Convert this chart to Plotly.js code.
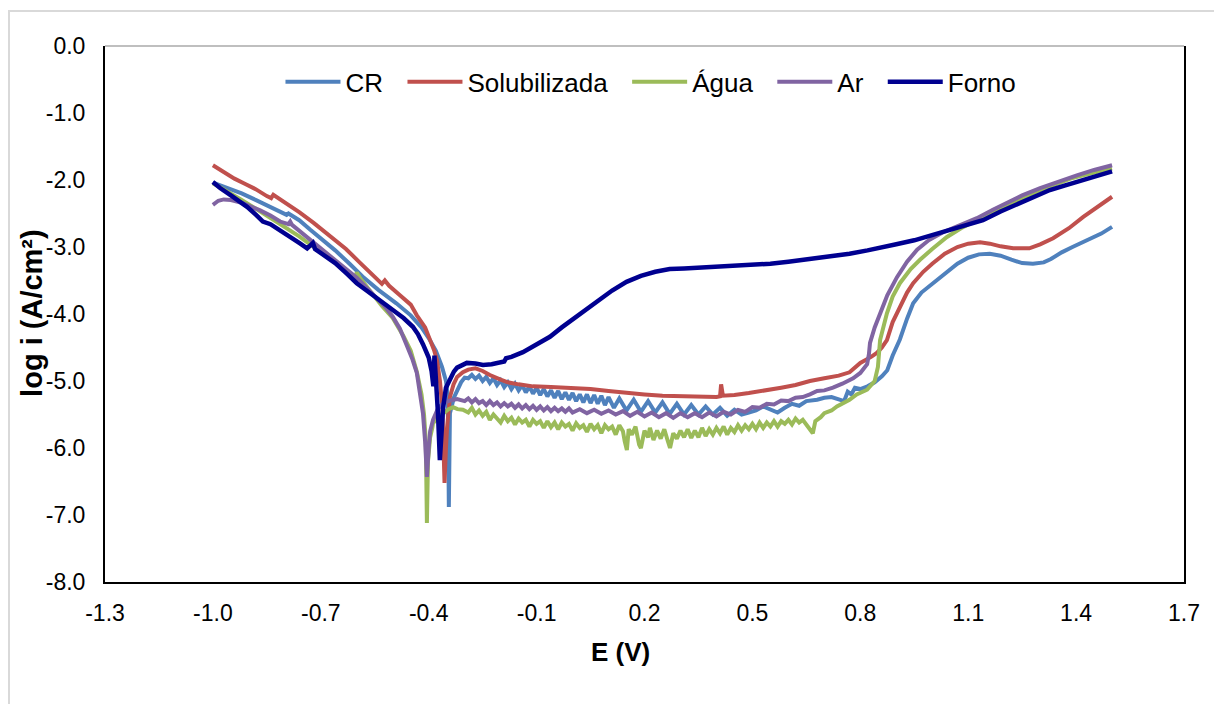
<!DOCTYPE html>
<html>
<head>
<meta charset="utf-8">
<script src="https://cdn.plot.ly/plotly-3.0.1.min.js"></script>
<style>
  html, body { margin:0; padding:0; background:#fff; }
  #wrap { position:relative; width:1214px; height:704px; overflow:hidden; }
  #chart { position:absolute; left:0; top:0; width:1214px; height:704px; }
  #frame { position:absolute; left:8px; top:10px; width:1300px; height:800px;
           border-left:2px solid #d9d9d9; border-top:2px solid #d9d9d9; pointer-events:none; }
</style>
</head>
<body>
<div id="wrap"><div id="chart"></div><div id="frame"></div></div>
<script>
// ---- Data (E in V, log i in log(A/cm²)) ----
const seriesNames = ["CR", "Solubilizada", "Água", "Ar", "Forno"];

const crPts = [[-1.00,-2.04],[-0.96,-2.12],[-0.92,-2.2],[-0.88,-2.3],[-0.84,-2.4],[-0.81,-2.48],[-0.795,-2.52],[-0.79,-2.5],[-0.76,-2.6],[-0.73,-2.74],[-0.70,-2.87],[-0.66,-3.05],[-0.62,-3.25],[-0.58,-3.46],[-0.54,-3.64],[-0.49,-3.84],[-0.45,-4.02],[-0.42,-4.2],[-0.40,-4.36],[-0.38,-4.55],[-0.363,-4.79],[-0.352,-5.0],[-0.349,-5.13],[-0.346,-5.6],[-0.344,-6.88],[-0.342,-6.0],[-0.341,-5.48],[-0.33,-5.25],[-0.321,-5.13],[-0.31,-5.02],[-0.3,-4.95],
[-0.29,-4.96],[-0.28,-4.91],[-0.27,-4.97],[-0.26,-4.92],[-0.25,-5.0],[-0.24,-4.94],[-0.23,-5.03],[-0.22,-4.96],[-0.21,-5.06],[-0.2,-4.99],[-0.19,-5.09],[-0.18,-5.02],[-0.17,-5.12],[-0.16,-5.04],[-0.15,-5.14],[-0.14,-5.06],[-0.13,-5.17],[-0.12,-5.08],[-0.11,-5.19],[-0.1,-5.1],[-0.09,-5.21],[-0.08,-5.12],[-0.07,-5.23],[-0.06,-5.14],[-0.05,-5.25],[-0.04,-5.15],[-0.03,-5.27],[-0.02,-5.17],[-0.01,-5.28],[0.0,-5.18],[0.01,-5.3],[0.02,-5.2],[0.03,-5.32],[0.04,-5.2],[0.05,-5.33],[0.06,-5.21],[0.07,-5.34],[0.08,-5.22],[0.09,-5.36],[0.1,-5.24],[0.115,-5.4],[0.13,-5.26],[0.15,-5.44],[0.17,-5.28],[0.19,-5.46],[0.21,-5.3],[0.23,-5.47],[0.25,-5.32],[0.27,-5.49],[0.29,-5.34],[0.31,-5.5],[0.33,-5.36],[0.35,-5.5],[0.37,-5.38],[0.39,-5.5],[0.41,-5.4],[0.43,-5.52],[0.45,-5.43],[0.47,-5.5],[0.49,-5.47],[0.51,-5.44],[0.53,-5.38],[0.55,-5.42],[0.57,-5.47],[0.59,-5.4],[0.61,-5.34],[0.63,-5.37],[0.65,-5.3],[0.68,-5.28],[0.7,-5.25],[0.72,-5.24],[0.74,-5.27],[0.755,-5.3],[0.765,-5.16],[0.775,-5.2],[0.785,-5.1],[0.8,-5.12],[0.82,-5.08],[0.84,-5.02],[0.86,-4.93],[0.875,-4.84],[0.89,-4.62],[0.91,-4.38],[0.93,-4.07],[0.947,-3.84],[0.97,-3.68],[1.0,-3.55],[1.03,-3.42],[1.07,-3.25],[1.1,-3.16],[1.13,-3.11],[1.16,-3.1],[1.19,-3.13],[1.22,-3.19],[1.25,-3.24],[1.28,-3.25],[1.31,-3.23],[1.33,-3.18],[1.36,-3.08],[1.39,-3.0],[1.43,-2.9],[1.47,-2.8],[1.5,-2.7]];

const solPts = [[-1.0,-1.78],[-0.97,-1.88],[-0.94,-1.98],[-0.91,-2.06],[-0.88,-2.14],[-0.85,-2.24],[-0.838,-2.27],[-0.832,-2.22],[-0.8,-2.33],[-0.76,-2.48],[-0.72,-2.64],[-0.67,-2.85],[-0.63,-3.03],[-0.59,-3.24],[-0.55,-3.45],[-0.53,-3.55],[-0.522,-3.5],[-0.51,-3.58],[-0.48,-3.72],[-0.45,-3.86],[-0.433,-4.02],[-0.41,-4.2],[-0.396,-4.39],[-0.385,-4.54],[-0.377,-4.69],[-0.369,-4.99],[-0.362,-5.4],[-0.356,-6.52],[-0.352,-6.0],[-0.349,-5.7],[-0.341,-5.24],[-0.331,-5.05],[-0.321,-4.94],[-0.305,-4.87],[-0.29,-4.83],[-0.27,-4.81],[-0.25,-4.85],[-0.23,-4.91],[-0.2,-4.98],[-0.18,-5.02],[-0.15,-5.05],[-0.11,-5.08],[-0.06,-5.09],[0.0,-5.1],[0.05,-5.12],[0.1,-5.15],[0.15,-5.18],[0.2,-5.2],[0.25,-5.22],[0.3,-5.23],[0.35,-5.24],[0.4,-5.24],[0.41,-5.23],[0.413,-5.05],[0.418,-5.22],[0.45,-5.21],[0.49,-5.18],[0.53,-5.15],[0.58,-5.1],[0.62,-5.06],[0.66,-5.0],[0.7,-4.96],[0.74,-4.92],[0.77,-4.87],[0.79,-4.78],[0.8,-4.73],[0.83,-4.64],[0.846,-4.58],[0.86,-4.5],[0.874,-4.39],[0.89,-4.12],[0.91,-3.89],[0.93,-3.68],[0.947,-3.54],[0.975,-3.37],[1.0,-3.25],[1.035,-3.1],[1.07,-3.0],[1.1,-2.95],[1.133,-2.93],[1.16,-2.95],[1.19,-2.99],[1.225,-3.02],[1.27,-3.02],[1.3,-2.96],[1.336,-2.87],[1.38,-2.72],[1.42,-2.55],[1.46,-2.4],[1.5,-2.25]];

const aguaPts = [[-1.0,-2.05],[-0.96,-2.17],[-0.92,-2.3],[-0.88,-2.43],[-0.84,-2.57],[-0.8,-2.7],[-0.76,-2.84],[-0.72,-3.0],[-0.68,-3.15],[-0.64,-3.3],[-0.62,-3.38],[-0.605,-3.46],[-0.6,-3.38],[-0.59,-3.47],[-0.56,-3.68],[-0.53,-3.88],[-0.5,-4.06],[-0.47,-4.33],[-0.45,-4.55],[-0.433,-4.86],[-0.42,-5.2],[-0.413,-5.5],[-0.408,-5.9],[-0.405,-7.12],[-0.402,-6.2],[-0.396,-5.84],[-0.39,-5.7],[-0.388,-5.63],[-0.375,-5.55],[-0.36,-5.48],[-0.345,-5.42],[-0.332,-5.39],[-0.32,-5.42],[-0.305,-5.43],
[-0.29,-5.47],[-0.28,-5.4],[-0.27,-5.5],[-0.26,-5.44],[-0.25,-5.52],[-0.24,-5.46],[-0.23,-5.58],[-0.22,-5.5],[-0.21,-5.56],[-0.2,-5.62],[-0.19,-5.52],[-0.18,-5.6],[-0.17,-5.55],[-0.16,-5.65],[-0.15,-5.56],[-0.14,-5.62],[-0.13,-5.58],[-0.12,-5.68],[-0.11,-5.58],[-0.1,-5.64],[-0.09,-5.6],[-0.08,-5.7],[-0.07,-5.6],[-0.06,-5.69],[-0.05,-5.62],[-0.04,-5.72],[-0.03,-5.62],[-0.02,-5.68],[-0.01,-5.64],[0.0,-5.74],[0.01,-5.63],[0.02,-5.7],[0.03,-5.66],[0.04,-5.76],[0.05,-5.64],[0.06,-5.72],[0.07,-5.66],[0.08,-5.78],[0.09,-5.66],[0.1,-5.72],[0.11,-5.68],[0.12,-5.8],[0.13,-5.66],[0.14,-5.75],[0.145,-5.9],[0.151,-6.03],[0.156,-5.72],[0.165,-5.8],[0.175,-5.68],[0.185,-5.95],[0.19,-6.0],[0.2,-5.74],[0.21,-5.84],[0.215,-5.7],[0.225,-5.88],[0.235,-5.74],[0.245,-5.86],[0.255,-5.72],[0.265,-5.9],[0.271,-6.0],[0.28,-5.78],[0.29,-5.86],[0.3,-5.74],[0.31,-5.84],[0.32,-5.72],[0.33,-5.85],[0.34,-5.74],[0.35,-5.84],[0.36,-5.7],[0.37,-5.82],[0.38,-5.72],[0.39,-5.8],[0.4,-5.7],[0.41,-5.78],[0.42,-5.68],[0.43,-5.8],[0.44,-5.7],[0.45,-5.76],[0.46,-5.66],[0.47,-5.74],[0.48,-5.66],[0.49,-5.72],[0.5,-5.64],[0.51,-5.72],[0.52,-5.62],[0.53,-5.7],[0.54,-5.62],[0.55,-5.68],[0.56,-5.6],[0.57,-5.68],[0.58,-5.6],[0.59,-5.64],[0.6,-5.58],[0.61,-5.65],[0.62,-5.56],[0.63,-5.62],[0.64,-5.58],[0.65,-5.66],[0.66,-5.72],[0.668,-5.78],[0.675,-5.6],[0.69,-5.54],[0.7,-5.48],[0.72,-5.44],[0.735,-5.38],[0.752,-5.33],[0.77,-5.28],[0.79,-5.2],[0.819,-5.13],[0.84,-5.0],[0.849,-4.79],[0.855,-4.39],[0.874,-3.99],[0.89,-3.74],[0.91,-3.54],[0.94,-3.33],[0.966,-3.19],[1.0,-3.03],[1.041,-2.85],[1.08,-2.72],[1.124,-2.6],[1.17,-2.47],[1.208,-2.37],[1.26,-2.25],[1.3,-2.15],[1.35,-2.05],[1.39,-1.97],[1.45,-1.89],[1.5,-1.83]];

const arPts = [[-1.0,-2.37],[-0.985,-2.31],[-0.97,-2.29],[-0.95,-2.3],[-0.92,-2.34],[-0.9,-2.38],[-0.87,-2.45],[-0.84,-2.53],[-0.813,-2.62],[-0.79,-2.66],[-0.785,-2.62],[-0.78,-2.67],[-0.75,-2.8],[-0.73,-2.9],[-0.7,-3.02],[-0.66,-3.2],[-0.627,-3.33],[-0.6,-3.46],[-0.585,-3.54],[-0.55,-3.74],[-0.52,-3.9],[-0.5,-4.04],[-0.48,-4.22],[-0.46,-4.48],[-0.445,-4.68],[-0.433,-4.88],[-0.425,-5.15],[-0.416,-5.48],[-0.41,-5.9],[-0.405,-6.43],[-0.4,-6.0],[-0.396,-5.75],[-0.388,-5.58],[-0.375,-5.42],[-0.36,-5.33],[-0.34,-5.29],[-0.321,-5.27],[-0.3,-5.3],
[-0.29,-5.26],[-0.28,-5.32],[-0.27,-5.27],[-0.26,-5.33],[-0.25,-5.3],[-0.24,-5.36],[-0.23,-5.3],[-0.22,-5.36],[-0.21,-5.32],[-0.2,-5.38],[-0.19,-5.33],[-0.18,-5.38],[-0.17,-5.34],[-0.16,-5.4],[-0.15,-5.35],[-0.14,-5.41],[-0.13,-5.36],[-0.12,-5.42],[-0.11,-5.37],[-0.1,-5.43],[-0.09,-5.38],[-0.08,-5.44],[-0.07,-5.39],[-0.06,-5.45],[-0.05,-5.4],[-0.04,-5.45],[-0.03,-5.41],[-0.02,-5.46],[-0.01,-5.41],[0.0,-5.47],[0.02,-5.42],[0.04,-5.48],[0.06,-5.43],[0.08,-5.49],[0.1,-5.44],[0.12,-5.5],[0.14,-5.45],[0.16,-5.52],[0.18,-5.46],[0.2,-5.53],[0.22,-5.47],[0.24,-5.54],[0.26,-5.48],[0.28,-5.55],[0.3,-5.48],[0.32,-5.54],[0.34,-5.48],[0.36,-5.54],[0.38,-5.47],[0.4,-5.53],[0.42,-5.46],[0.44,-5.5],[0.46,-5.43],[0.48,-5.46],[0.5,-5.39],[0.52,-5.4],[0.54,-5.34],[0.56,-5.35],[0.58,-5.29],[0.6,-5.3],[0.62,-5.25],[0.64,-5.24],[0.66,-5.2],[0.68,-5.15],[0.7,-5.14],[0.724,-5.1],[0.75,-5.04],[0.78,-4.96],[0.8,-4.88],[0.819,-4.75],[0.824,-4.6],[0.827,-4.43],[0.84,-4.2],[0.855,-3.99],[0.875,-3.72],[0.902,-3.45],[0.93,-3.22],[0.958,-3.04],[0.99,-2.9],[1.03,-2.78],[1.08,-2.67],[1.124,-2.57],[1.17,-2.44],[1.208,-2.34],[1.25,-2.23],[1.3,-2.12],[1.35,-2.02],[1.402,-1.93],[1.45,-1.85],[1.5,-1.78]];

const fornoPts = [[-1.0,-2.03],[-0.98,-2.12],[-0.95,-2.23],[-0.93,-2.3],[-0.905,-2.4],[-0.88,-2.52],[-0.861,-2.62],[-0.84,-2.66],[-0.813,-2.75],[-0.78,-2.86],[-0.76,-2.94],[-0.738,-3.02],[-0.728,-2.96],[-0.722,-2.94],[-0.716,-3.03],[-0.69,-3.12],[-0.66,-3.24],[-0.627,-3.4],[-0.6,-3.54],[-0.57,-3.66],[-0.535,-3.8],[-0.5,-3.93],[-0.47,-4.06],[-0.444,-4.19],[-0.43,-4.3],[-0.416,-4.45],[-0.4,-4.65],[-0.392,-4.85],[-0.387,-5.08],[-0.384,-4.62],[-0.379,-4.98],[-0.374,-5.5],[-0.369,-6.18],[-0.365,-5.7],[-0.36,-5.4],[-0.352,-5.1],[-0.341,-4.96],[-0.33,-4.86],[-0.321,-4.8],[-0.305,-4.75],[-0.294,-4.73],[-0.27,-4.74],[-0.249,-4.76],[-0.225,-4.75],[-0.2,-4.73],[-0.19,-4.71],[-0.185,-4.66],[-0.17,-4.64],[-0.138,-4.57],[-0.1,-4.46],[-0.063,-4.34],[-0.03,-4.2],[0.012,-4.04],[0.04,-3.93],[0.076,-3.79],[0.11,-3.65],[0.15,-3.52],[0.19,-3.43],[0.23,-3.37],[0.27,-3.33],[0.31,-3.32],[0.35,-3.31],[0.4,-3.3],[0.45,-3.28],[0.5,-3.26],[0.55,-3.25],[0.6,-3.22],[0.632,-3.2],[0.68,-3.17],[0.724,-3.14],[0.77,-3.1],[0.82,-3.05],[0.863,-3.01],[0.9,-2.96],[0.95,-2.9],[1.002,-2.82],[1.05,-2.74],[1.1,-2.67],[1.141,-2.6],[1.19,-2.47],[1.236,-2.36],[1.28,-2.25],[1.327,-2.15],[1.37,-2.08],[1.419,-2.0],[1.46,-1.94],[1.5,-1.87]];

const xTickVals = [-1.3,-1.0,-0.7,-0.4,-0.1,0.2,0.5,0.8,1.1,1.4,1.7];
const xTickText = ["-1.3","-1.0","-0.7","-0.4","-0.1","0.2","0.5","0.8","1.1","1.4","1.7"];
const yTickVals = [0,-1,-2,-3,-4,-5,-6,-7,-8];
const yTickText = ["0.0","-1.0","-2.0","-3.0","-4.0","-5.0","-6.0","-7.0","-8.0"];
const xTitle = "E (V)";
const yTitle = "log i (A/cm²)";

// ---- Build ----
const allPts = [crPts, solPts, aguaPts, arPts, fornoPts];
const colors = ["#4F81BD", "#C0504D", "#9BBB59", "#8064A2", "#000090"];
const widths = [4, 4, 4, 4, 4.5];
const FONT = 'Arial, "Liberation Sans", sans-serif';
const GAP = '\u00A0\u00A0';

const traces = allPts.map((pts, i) => ({
  type: 'scatter', mode: 'lines',
  name: seriesNames[i] + (i < allPts.length - 1 ? GAP : ''),
  x: pts.map(p => p[0]), y: pts.map(p => p[1]),
  line: { color: colors[i], width: widths[i] }
}));

const layout = {
  width: 1214, height: 704,
  margin: { l: 105, r: 30, t: 46, b: 122 },
  paper_bgcolor: '#fff', plot_bgcolor: '#fff',
  font: { family: FONT, color: '#000', size: 20 },
  showlegend: true,
  legend: {
    orientation: 'h', x: 0.506, xanchor: 'center', y: 0.933, yanchor: 'middle',
    font: { family: FONT, size: 26, color: '#000' }, bgcolor: 'rgba(0,0,0,0)',
    itemwidth: 55
  },
  xaxis: {
    range: [-1.3, 1.7], tickmode: 'array', tickvals: xTickVals, ticktext: xTickText,
    showgrid: false, zeroline: false, showline: true, linecolor: '#000', linewidth: 2,
    ticks: '', tickfont: { family: FONT, size: 23, color: '#000' }, ticklabelstandoff: 9
  },
  yaxis: {
    range: [-8, 0], tickmode: 'array', tickvals: yTickVals, ticktext: yTickText,
    showgrid: false, zeroline: false, showline: true, mirror: true, linecolor: '#000', linewidth: 2,
    ticks: '', tickfont: { family: FONT, size: 23, color: '#000' }, ticklabelstandoff: 13
  },
  shapes: [
    { type: 'line', xref: 'paper', yref: 'paper', x0: 0, x1: 1, y0: 1, y1: 1,
      line: { color: '#bfbfbf', width: 2 } }
  ],
  annotations: [
    { text: '<b>' + xTitle + '</b>', xref: 'paper', yref: 'paper', x: 0.478, y: -0.1306,
      xanchor: 'center', yanchor: 'middle', showarrow: false,
      font: { family: FONT, size: 26, color: '#000' } },
    { text: '<b>' + yTitle + '</b>', xref: 'paper', yref: 'paper', x: -0.0677, y: 0.502,
      xanchor: 'center', yanchor: 'middle', showarrow: false, textangle: -90,
      font: { family: FONT, size: 29, color: '#000' } }
  ]
};

Plotly.newPlot('chart', traces, layout, { displayModeBar: false, staticPlot: true });
</script>
</body>
</html>
